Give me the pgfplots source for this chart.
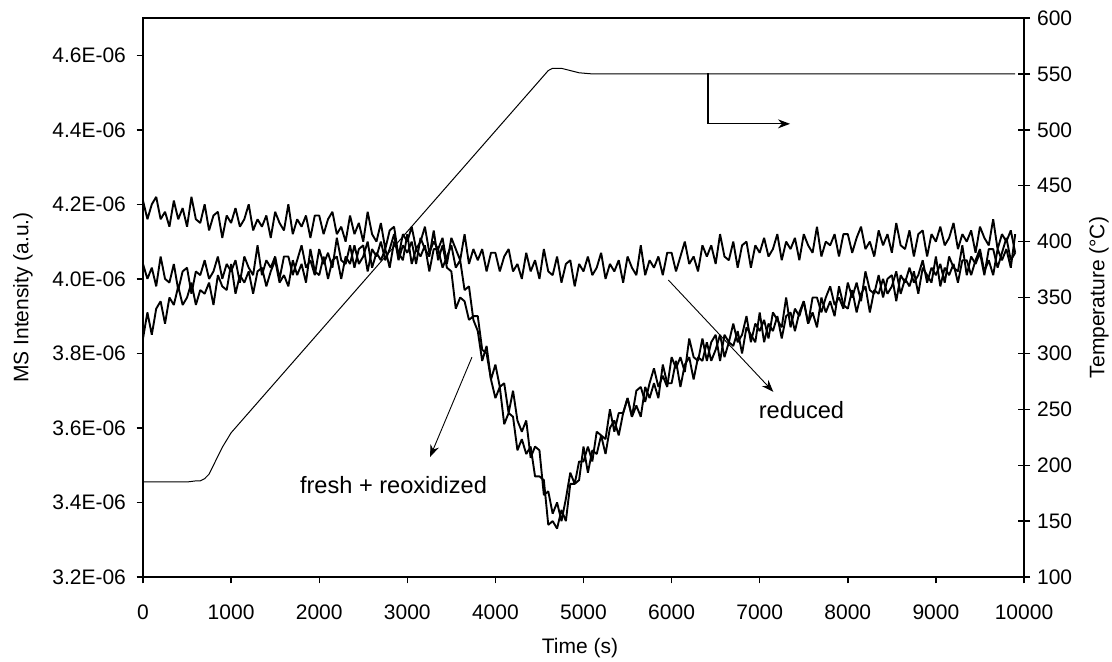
\documentclass[border=0pt]{standalone}
\usepackage{fontspec}
\setmainfont{Liberation Sans}
\usepackage{pgfplots}
\usepackage{pgfplotstable}
\pgfplotsset{compat=1.18}
\usetikzlibrary{arrows.meta}

\pgfplotstableread{
t R F O
0 4.21 4.04 3.84
50 4.16 4.00 3.91
100 4.20 4.03 3.85
150 4.22 3.98 3.92
200 4.16 4.06 3.94
250 4.18 4.00 3.88
300 4.14 3.99 3.95
350 4.21 4.04 3.93
400 4.16 3.97 3.98
450 4.19 4.02 3.93
500 4.14 4.03 3.95
550 4.22 3.96 3.99
600 4.16 4.02 3.93
650 4.15 4.01 3.97
700 4.20 4.05 3.96
750 4.13 4.00 3.99
800 4.17 4.02 3.93
850 4.18 4.06 4.01
900 4.11 4.00 3.98
950 4.17 4.04 3.97
1000 4.15 4.02 4.04
1050 4.19 4.05 3.96
1100 4.14 3.99 4.01
1150 4.16 4.06 3.99
1200 4.20 4.03 4.02
1250 4.13 4.01 3.96
1300 4.16 4.09 4.02
1350 4.14 4.01 4.03
1400 4.17 4.05 3.98
1450 4.11 4.03 4.02
1500 4.18 4.06 4.05
1550 4.15 4.00 3.99
1600 4.13 4.06 4.01
1650 4.20 4.06 3.98
1700 4.12 4.01 4.05
1750 4.16 4.05 4.01
1800 4.14 4.09 4.04
1850 4.17 4.03 3.99
1900 4.11 4.05 4.08
1950 4.17 4.01 4.02
2000 4.17 4.08 4.01
2050 4.12 4.04 4.06
2100 4.16 4.07 4.00
2150 4.18 4.03 4.05
2200 4.12 4.11 4.06
2250 4.14 4.05 4.00
2300 4.10 4.04 4.06
2350 4.17 4.09 4.04
2400 4.12 4.03 4.09
2450 4.15 4.08 4.04
2500 4.10 4.09 4.06
2550 4.18 4.02 4.10
2600 4.12 4.08 4.03
2650 4.10 4.06 4.07
2700 4.15 4.10 4.05
2750 4.08 4.05 4.08
2800 4.13 4.08 4.03
2850 4.14 4.12 4.10
2900 4.06 4.05 4.07
2950 4.12 4.09 4.05
3000 4.10 4.07 4.12
3050 4.14 4.10 4.04
3100 4.08 4.04 4.08
3150 4.10 4.11 4.06
3200 4.14 4.08 4.09
3250 4.07 4.06 4.02
3300 4.10 4.13 4.08
3350 4.08 4.05 4.08
3400 4.11 4.09 4.03
3450 4.04 4.03 4.06
3500 4.11 4.02 4.09
3550 4.08 3.92 4.03
3600 4.05 3.95 4.05
3650 4.12 3.94 3.97
3700 4.04 3.89 3.98
3750 4.08 3.90 3.89
3800 4.05 3.90 3.86
3850 4.08 3.81 3.78
3900 4.02 3.80 3.82
3950 4.07 3.73 3.73
4000 4.07 3.77 3.68
4050 4.02 3.71 3.71
4100 4.06 3.72 3.61
4150 4.08 3.64 3.64
4200 4.02 3.70 3.63
4250 4.04 3.62 3.54
4300 4.00 3.59 3.57
4350 4.07 3.62 3.53
4400 4.02 3.52 3.55
4450 4.05 3.55 3.47
4500 4.00 3.54 3.47
4550 4.08 3.42 3.46
4600 4.02 3.43 3.34
4650 4.01 3.37 3.35
4700 4.06 3.40 3.33
4750 3.99 3.35 3.38
4800 4.04 3.41 3.35
4850 4.05 3.48 3.45
4900 3.98 3.45 3.45
4950 4.04 3.51 3.46
5000 4.02 3.51 3.55
5050 4.06 3.55 3.48
5100 4.01 3.51 3.54
5150 4.03 3.59 3.53
5200 4.07 3.58 3.58
5250 4.00 3.57 3.53
5300 4.04 3.65 3.60
5350 4.02 3.59 3.62
5400 4.05 3.64 3.58
5450 3.99 3.64 3.64
5500 4.06 3.68 3.68
5550 4.03 3.63 3.63
5600 4.01 3.70 3.66
5650 4.09 3.71 3.63
5700 4.01 3.67 3.71
5750 4.05 3.72 3.68
5800 4.03 3.76 3.72
5850 4.06 3.71 3.68
5900 4.01 3.74 3.77
5950 4.07 3.71 3.72
6000 4.07 3.79 3.72
6050 4.02 3.76 3.78
6100 4.06 3.79 3.71
6150 4.10 3.75 3.77
6200 4.04 3.84 3.79
6250 4.06 3.79 3.73
6300 4.02 3.78 3.79
6350 4.09 3.84 3.78
6400 4.06 3.78 3.83
6450 4.09 3.83 3.78
6500 4.04 3.85 3.81
6550 4.12 3.78 3.85
6600 4.06 3.85 3.79
6650 4.05 3.83 3.83
6700 4.10 3.88 3.82
6750 4.03 3.83 3.86
6800 4.09 3.85 3.80
6850 4.10 3.90 3.87
6900 4.03 3.83 3.85
6950 4.09 3.88 3.83
7000 4.07 3.86 3.91
7050 4.11 3.89 3.83
7100 4.06 3.84 3.88
7150 4.08 3.91 3.86
7200 4.12 3.89 3.90
7250 4.05 3.87 3.84
7300 4.10 3.95 3.90
7350 4.08 3.87 3.91
7400 4.11 3.92 3.86
7450 4.05 3.90 3.91
7500 4.12 3.94 3.94
7550 4.09 3.88 3.88
7600 4.07 3.95 3.91
7650 4.14 3.95 3.87
7700 4.06 3.91 3.95
7750 4.10 3.95 3.91
7800 4.09 3.98 3.94
7850 4.12 3.93 3.90
7900 4.06 3.95 3.98
7950 4.12 3.92 3.93
8000 4.12 3.99 3.92
8050 4.07 3.95 3.97
8100 4.11 3.99 3.91
8150 4.14 3.94 3.96
8200 4.08 4.02 3.98
8250 4.10 3.97 3.91
8300 4.06 3.96 3.97
8350 4.13 4.01 3.96
8400 4.09 3.95 4.00
8450 4.12 4.00 3.96
8500 4.07 4.01 3.98
8550 4.15 3.94 4.02
8600 4.09 4.01 3.96
8650 4.08 3.99 4.00
8700 4.13 4.03 3.98
8750 4.06 3.99 4.02
8800 4.12 4.01 3.96
8850 4.13 4.05 4.03
8900 4.06 3.99 4.01
8950 4.12 4.03 3.99
9000 4.10 4.01 4.06
9050 4.14 4.04 3.98
9100 4.09 3.99 4.03
9150 4.11 4.06 4.01
9200 4.15 4.03 4.04
9250 4.08 4.02 3.99
9300 4.12 4.09 4.05
9350 4.10 4.01 4.05
9400 4.13 4.06 4.01
9450 4.07 4.04 4.05
9500 4.14 4.07 4.08
9550 4.11 4.01 4.02
9600 4.09 4.08 4.05
9650 4.16 4.08 4.01
9700 4.08 4.03 4.08
9750 4.12 4.07 4.05
9800 4.10 4.11 4.08
9850 4.13 4.05 4.03
9900 4.07 4.07 4.12
}\msdata

\pgfplotstableread{
t T
0 185
100 185
200 185
300 185
400 185
500 185
600 186
650 186
700 188
750 192
800 200
850 208
900 216
1000 229
1500 274
2000 319
2500 364
3000 409
3500 454
4000 499
4500 544
4600 553
4650 555
4750 555
4850 553
4950 551
5100 550
9900 550
}\tempdata

\begin{document}
\begin{tikzpicture}[font=\fontsize{10.5}{12.6}\selectfont]
\path[use as bounding box] (-71.5pt,-42pt) rectangle (484.5pt,288.5pt);
\begin{axis}[
  width=440.5pt, height=279.5pt, scale only axis,
  xmin=0, xmax=10000, ymin=3.2, ymax=4.7,
  scaled x ticks=false, scaled y ticks=false,
  xtick={0,1000,...,10000},
  xticklabels={0,1000,2000,3000,4000,5000,6000,7000,8000,9000,10000},
  ytick={3.2,3.4,3.6,3.8,4.0,4.2,4.4,4.6},
  yticklabels={3.2E-06,3.4E-06,3.6E-06,3.8E-06,4.0E-06,4.2E-06,4.4E-06,4.6E-06},
  xtick pos=left, ytick pos=left,
  tick align=outside,
  major tick length=3.2pt,
  axis line style={line width=0.7pt},
  every tick/.style={black, line width=0.7pt},
  yticklabel style={xshift=-1.8pt},
  xticklabel style={yshift=-7pt},
  xlabel={Time (s)},
  ylabel={MS Intensity (a.u.)},
  xlabel style={at={(axis description cs:0.496,-0.127)}, anchor=center},
  ylabel style={at={(axis description cs:-0.1362,0.5)}, anchor=center},
]
\addplot[black, line width=0.95pt, line join=bevel] table[x=t,y=R]{\msdata};
\addplot[black, line width=0.95pt, line join=bevel] table[x=t,y=F]{\msdata};
\addplot[black, line width=0.95pt, line join=bevel] table[x=t,y=O]{\msdata};
\node[font=\fontsize{11.8}{14}\selectfont] at (axis cs:2843,3.447) {fresh + reoxidized};
\node[font=\fontsize{11.8}{14}\selectfont] at (axis cs:7474,3.648) {reduced};
\draw[line width=0.45pt, -{Stealth[length=6pt,width=4.5pt]}] (axis cs:3734,3.790) -- (axis cs:3258,3.522);
\draw[line width=0.45pt, -{Stealth[length=6pt,width=4.5pt]}] (axis cs:5963,3.997) -- (axis cs:7154,3.697);
\draw[line width=0.6pt, -{Stealth[length=6pt,width=4.5pt]}] (axis cs:6413,4.552) -- (axis cs:6413,4.416) -- (axis cs:7344,4.416);
\end{axis}
\begin{axis}[
  width=440.5pt, height=279.5pt, scale only axis,
  xmin=0, xmax=10000, ymin=100, ymax=600,
  scaled x ticks=false, scaled y ticks=false,
  axis x line=none,
  axis y line*=right,
  ytick={100,150,...,600},
  yticklabels={100,150,200,250,300,350,400,450,500,550,600},
  tick align=center, major tick length=6pt,
  axis line style={line width=0.7pt},
  every tick/.style={black, line width=0.7pt},
  ylabel={Temperature (°C)},
  ylabel style={at={(axis description cs:1.0851,0.5)}, anchor=center},
]
\addplot[black, line width=0.5pt] table[x=t,y=T]{\tempdata};
\end{axis}
\end{tikzpicture}
\end{document}
